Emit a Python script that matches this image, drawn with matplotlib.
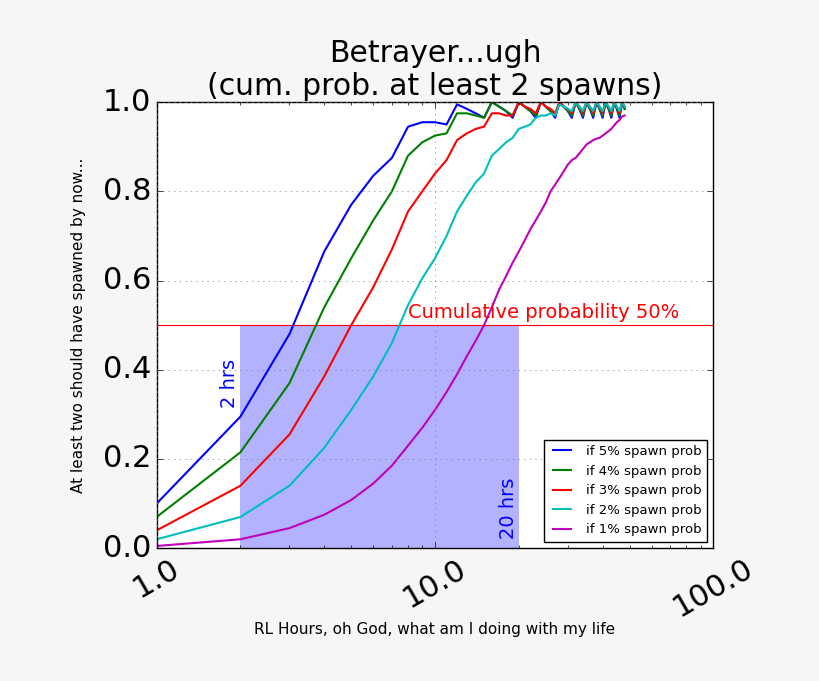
import matplotlib
matplotlib.use("Agg")
import matplotlib.pyplot as plt
from matplotlib.ticker import FixedLocator, FixedFormatter

plt.style.use("classic")

hours = list(range(1, 49))

p5 = [0.10, 0.295, 0.48, 0.665, 0.77, 0.835, 0.875, 0.945, 0.955, 0.955,
      0.95, 0.995, 0.985, 0.975, 0.965, 1.0, 0.99, 0.98, 0.965, 1.0,
      0.99, 0.98, 0.965, 1.0, 0.99, 0.98, 0.965, 1.0, 0.99, 0.98,
      0.965, 1.0, 0.985, 0.965, 1.0, 0.985, 0.965, 1.0, 0.985, 0.965,
      1.0, 0.985, 0.965, 1.0, 0.985, 0.965, 1.0, 0.985]
p4 = [0.07, 0.215, 0.37, 0.54, 0.65, 0.735, 0.80, 0.88, 0.91, 0.925,
      0.93, 0.975, 0.975, 0.97, 0.965, 1.0, 0.99, 0.98, 0.97, 1.0,
      0.99, 0.98, 0.97, 1.0, 0.99, 0.98, 0.97, 1.0, 0.99, 0.98,
      0.97, 1.0, 0.985, 0.97, 1.0, 0.985, 0.97, 1.0, 0.985, 0.97,
      1.0, 0.985, 0.97, 1.0, 0.985, 0.97, 1.0, 0.985]
p3 = [0.04, 0.14, 0.255, 0.385, 0.50, 0.585, 0.67, 0.755, 0.80, 0.84,
      0.87, 0.915, 0.93, 0.94, 0.945, 0.975, 0.975, 0.97, 0.97, 1.0,
      0.99, 0.985, 0.975, 1.0, 0.99, 0.985, 0.975, 1.0, 0.99, 0.985,
      0.975, 1.0, 0.99, 0.975, 1.0, 0.99, 0.975, 1.0, 0.99, 0.975,
      1.0, 0.99, 0.975, 1.0, 0.99, 0.975, 1.0, 0.99]
p2 = [0.02, 0.07, 0.14, 0.225, 0.31, 0.385, 0.46, 0.545, 0.605, 0.65,
      0.70, 0.755, 0.79, 0.82, 0.84, 0.88, 0.895, 0.91, 0.92, 0.94,
      0.945, 0.95, 0.965, 0.97, 0.97, 0.975, 0.97, 0.995, 0.99, 0.985,
      0.98, 1.0, 0.99, 0.98, 1.0, 0.99, 0.98, 1.0, 0.99, 0.98,
      1.0, 0.99, 0.98, 1.0, 0.99, 0.98, 1.0, 0.99]
p1 = [0.005, 0.02, 0.045, 0.075, 0.108, 0.145, 0.185, 0.23, 0.27, 0.31,
      0.35, 0.39, 0.43, 0.465, 0.50, 0.54, 0.58, 0.61, 0.64, 0.665,
      0.69, 0.715, 0.735, 0.755, 0.775, 0.80, 0.815, 0.83, 0.845, 0.86,
      0.87, 0.875, 0.885, 0.895, 0.905, 0.91, 0.915, 0.918, 0.92, 0.925,
      0.93, 0.935, 0.94, 0.948, 0.955, 0.96, 0.968, 0.97]

series = [("if 5% spawn prob", p5, "b"), ("if 4% spawn prob", p4, "g"),
          ("if 3% spawn prob", p3, "r"), ("if 2% spawn prob", p2, "c"),
          ("if 1% spawn prob", p1, "m")]

fig = plt.figure(figsize=(8.2, 6.81), dpi=100, facecolor="#f6f6f6")
ax = fig.add_axes([0.191, 0.195, 0.679, 0.655])

ax.fill_between([2, 20], 0, 0.5, color="blue", alpha=0.3, linewidth=0)
ax.axhline(0.5, color="r", linewidth=0.8)
for label, vals, col in series:
    ax.plot(hours, vals, color=col, linewidth=1.5, label=label)

ax.set_xscale("log")
ax.set_xlim(1, 100)
ax.set_ylim(0, 1)
ax.grid(True, linestyle=":", color="gray")
ax.xaxis.set_major_locator(FixedLocator([1, 10, 100]))
ax.xaxis.set_major_formatter(FixedFormatter(["1.0", "10.0", "100.0"]))
ax.tick_params(labelsize=22)
for t in ax.get_xticklabels():
    t.set_rotation(30)

ax.text(8, 0.515, "Cumulative probability 50%", color="r", fontsize=14)
ax.text(1.82, 0.37, "2 hrs", color="b", fontsize=14, rotation=90,
        ha="center", va="center")
ax.text(18.3, 0.09, "20 hrs", color="b", fontsize=14, rotation=90,
        ha="center", va="center")

ax.set_title("Betrayer...ugh\n(cum. prob. at least 2 spawns)", fontsize=21.5)
ax.set_xlabel("RL Hours, oh God, what am I doing with my life", fontsize=11,
              labelpad=0)
ax.set_ylabel("At least two should have spawned by now...", fontsize=11,
              labelpad=12)
ax.legend(loc="lower right", fontsize=9.5)

fig.savefig("out.png", facecolor=fig.get_facecolor())
